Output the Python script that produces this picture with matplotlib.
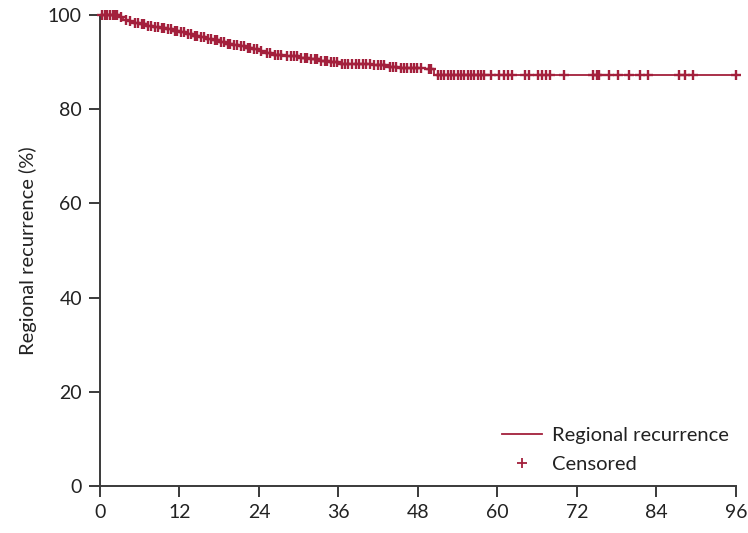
import matplotlib
matplotlib.use("Agg")
import matplotlib.pyplot as plt
import numpy as np

# Kaplan-Meier step data (months, % free of regional recurrence)
event_times = [0, 2.8, 3.5, 4.2, 5.0, 6.0, 7.0, 8.0, 9.0, 10.0, 11.0, 12.0, 13.0, 14.0,
               15.0, 16.0, 17.0, 18.0, 19.0, 20.0, 21.0, 22.0, 23.0, 24.0, 24.8, 26.0,
               28.0, 30.0, 31.5, 33.0, 34.5, 36.0, 41.0, 43.5, 45.0, 49.0, 50.5]
survival = [100, 99.5, 99.0, 98.6, 98.3, 98.0, 97.7, 97.4, 97.1, 96.9, 96.6, 96.3, 96.0,
            95.6, 95.3, 94.9, 94.6, 94.2, 93.9, 93.6, 93.3, 93.0, 92.7, 92.4, 91.9, 91.5,
            91.2, 90.9, 90.6, 90.2, 89.9, 89.6, 89.3, 89.0, 88.7, 88.4, 87.3]
censor_times = [0.3, 0.7, 1.1, 1.5, 1.9, 2.3, 2.6, 3.1, 3.9, 4.6, 5.3, 5.7, 6.3, 6.7,
                7.3, 7.7, 8.3, 8.7, 9.3, 9.7, 10.3, 10.7, 11.3, 11.7, 12.3, 12.7, 13.3,
                13.7, 14.3, 14.7, 15.3, 15.7, 16.3, 16.7, 17.3, 17.7, 18.3, 18.7, 19.3,
                19.7, 20.3, 20.7, 21.3, 21.7, 22.3, 22.7, 23.3, 23.7, 24.3, 25.2, 25.6,
                26.4, 26.9, 27.4, 28.3, 28.8, 29.3, 29.7, 30.4, 30.9, 31.2, 31.9, 32.4,
                32.8, 33.4, 33.9, 34.2, 34.9, 35.4, 35.8, 36.5, 37.0, 37.5, 38.0, 38.6,
                39.1, 39.7, 40.2, 40.7, 41.4, 41.9, 42.4, 42.9, 43.8, 44.3, 44.7, 45.4,
                45.9, 46.4, 46.9, 47.4, 47.9, 48.4, 49.6, 50.0, 51.0, 51.5, 52.0, 52.5,
                53.0, 53.5, 54.0, 54.5, 55.0, 55.5, 56.0, 56.5, 57.0, 57.5, 58.0, 59.0,
                60.2, 61.0, 61.6, 62.2, 64.2, 64.7, 66.1, 66.8, 67.3, 68.0, 70.0, 74.5,
                75.0, 75.3, 76.8, 78.2, 79.8, 81.6, 82.8, 87.4, 88.4, 89.6, 96.0]

x_ticks = [0, 12, 24, 36, 48, 60, 72, 84, 96]
y_ticks = [0, 20, 40, 60, 80, 100]

color = "#A3203C"
axis_color = "#3a3a3a"
plt.rcParams['font.family'] = ['Lato', 'DejaVu Sans']

fig = plt.figure(figsize=(7.48, 5.33), dpi=100)
ax = fig.add_axes([0.1337, 0.0882, 0.850, 0.884])

t_line = list(event_times) + [max(censor_times)]
s_line = list(survival) + [survival[-1]]
ax.step(t_line, s_line, where="post", color=color, lw=1.3, label="Regional recurrence",
        clip_on=False, zorder=3)

idx = np.searchsorted(event_times, censor_times, side="right") - 1
cens_s = np.array(survival)[idx]
ax.plot(censor_times, cens_s, linestyle="none", marker="+", color=color, ms=7.5, mew=1.7,
        label="Censored", clip_on=False, zorder=4)

ax.set_xlim(0, 96)
ax.set_ylim(0, 100)
ax.set_xticks(x_ticks)
ax.set_yticks(y_ticks)
for s in ["top", "right"]:
    ax.spines[s].set_visible(False)
for s in ["left", "bottom"]:
    ax.spines[s].set_color(axis_color)
    ax.spines[s].set_linewidth(1.4)
ax.tick_params(axis="both", direction="out", length=8, width=1.4, color=axis_color,
               labelsize=14, labelcolor="#222222", pad=5)
ax.set_ylabel("Regional recurrence (%)", fontsize=14.5, color="#222222", labelpad=8)

leg = ax.legend(loc="lower right", bbox_to_anchor=(1.018, -0.01), frameon=False, fontsize=14.5,
                handlelength=2.0, handletextpad=0.5, labelspacing=0.55)
for txt in leg.get_texts():
    txt.set_color("#222222")
leg.legend_handles[1].set_markeredgewidth(1.3)

fig.savefig("out.png", dpi=100)
